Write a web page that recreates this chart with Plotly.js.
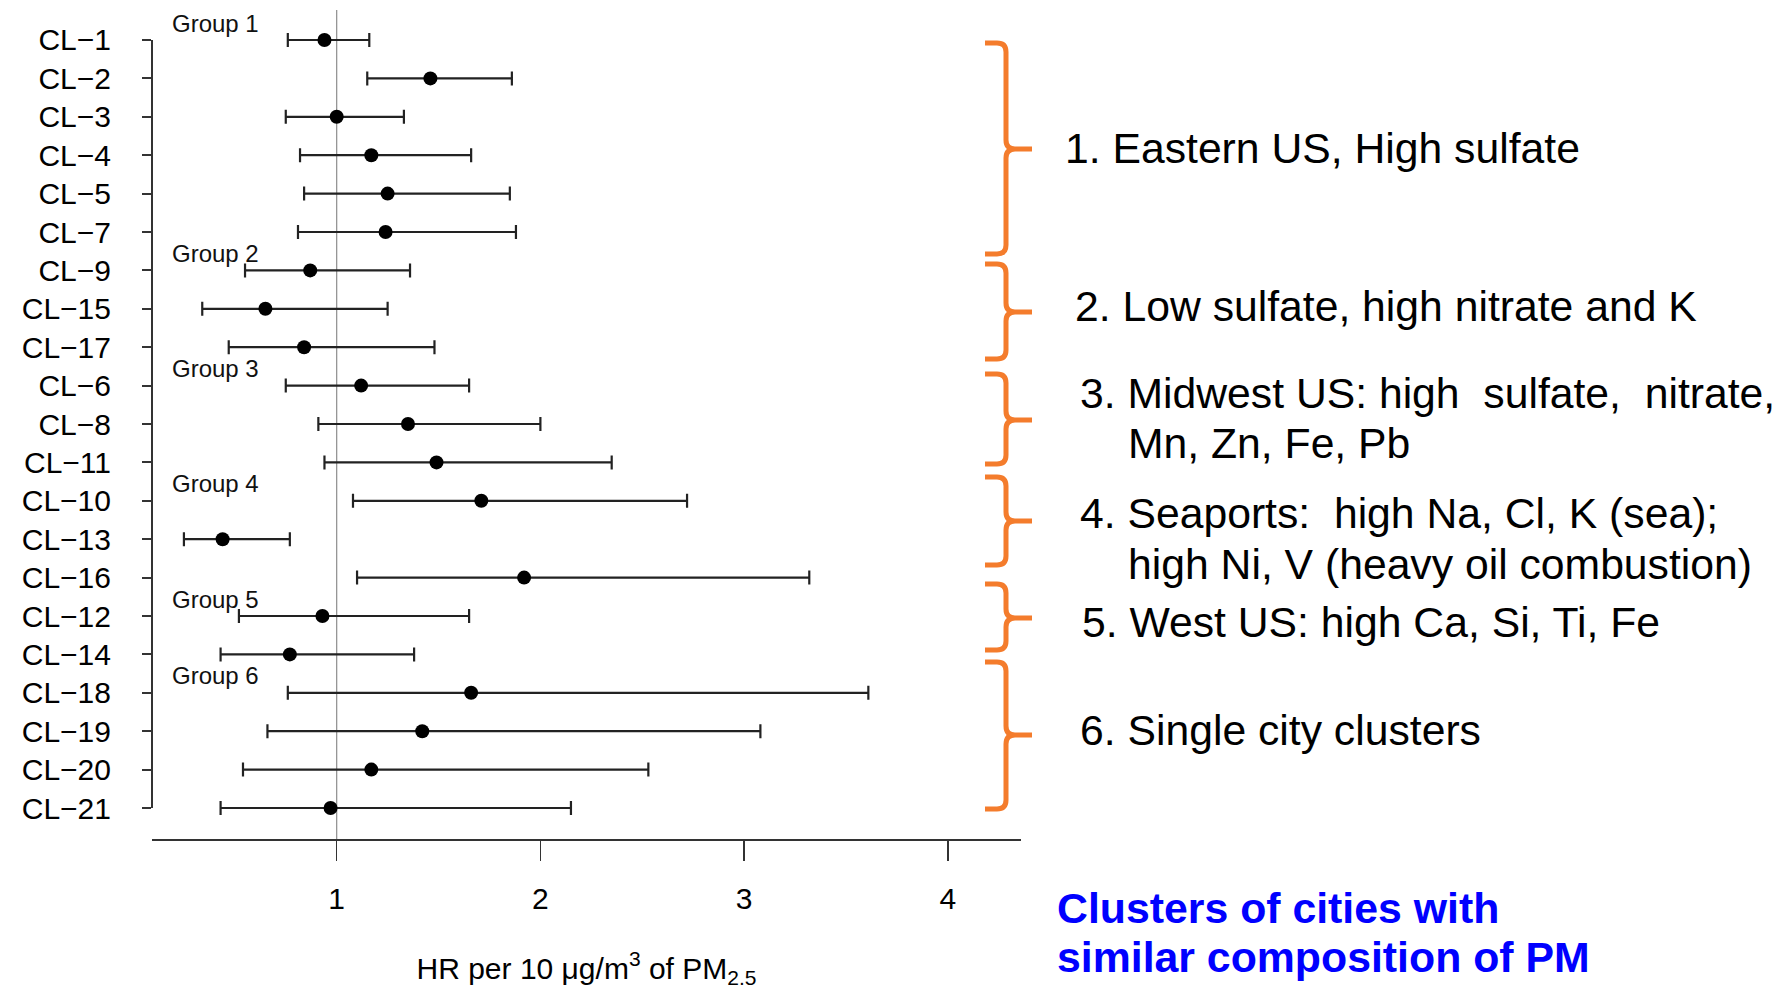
<!DOCTYPE html>
<html>
<head>
<meta charset="utf-8">
<script src="https://cdn.plot.ly/plotly-3.0.1.min.js"></script>
<style>html,body{margin:0;padding:0;background:#fff;}#chart{width:1792px;height:989px;}</style>
</head>
<body>
<div id="chart"></div>
<script>
// ---------- data ----------
const categories = ['CL\u22121','CL\u22122','CL\u22123','CL\u22124','CL\u22125','CL\u22127','CL\u22129','CL\u221215','CL\u221217','CL\u22126','CL\u22128','CL\u221211','CL\u221210','CL\u221213','CL\u221216','CL\u221212','CL\u221214','CL\u221218','CL\u221219','CL\u221220','CL\u221221'];
const hr    = [0.94,1.46,1.00,1.17,1.25,1.24,0.87,0.65,0.84,1.12,1.35,1.49,1.71,0.44,1.92,0.93,0.77,1.66,1.42,1.17,0.97];
const lower = [0.76,1.15,0.75,0.82,0.84,0.81,0.55,0.34,0.47,0.75,0.91,0.94,1.08,0.25,1.10,0.52,0.43,0.76,0.66,0.54,0.43];
const upper = [1.16,1.86,1.33,1.66,1.85,1.88,1.36,1.25,1.48,1.65,2.00,2.35,2.72,0.77,3.32,1.65,1.38,3.61,3.08,2.53,2.15];
const xTickVals = [1,2,3,4];
const xTickText = ['1','2','3','4'];
const groupLabels = ['Group 1','Group 2','Group 3','Group 4','Group 5','Group 6'];
const groupFirst  = ['CL\u22121','CL\u22129','CL\u22126','CL\u221210','CL\u221212','CL\u221218'];
const descLines = [
  '1. Eastern US, High sulfate',
  '2. Low sulfate, high nitrate and K',
  '3. Midwest US: high\u00a0 sulfate,\u00a0 nitrate,',
  'Mn, Zn, Fe, Pb',
  '4. Seaports:\u00a0 high Na, Cl, K (sea);',
  'high Ni, V (heavy oil combustion)',
  '5. West US: high Ca, Si, Ti, Fe',
  '6. Single city clusters'
];
const noteLines = ['Clusters of cities with','similar composition of PM'];
const xTitle = 'HR per 10 \u03bcg/m<sup>3</sup> of PM<sub>2.5</sub>';

// ---------- layout geometry (pixels) ----------
const W = 1792, H = 989;
const ML = 152, MR = 771, MT = 10, MB = 150;
const PW = W - ML - MR, PH = H - MT - MB;
const px = x => (x - ML) / PW;
const py = y => (MT + PH - y) / PH;

const FONT = 'Liberation Sans, Arial, Helvetica, sans-serif';
const ORANGE = '#f47c2c';

// error bar extents from the data
const errPlus  = upper.map((u, i) => u - hr[i]);
const errMinus = hr.map((h, i) => h - lower[i]);

const trace = {
  type: 'scatter',
  mode: 'markers',
  x: hr,
  y: categories,
  marker: {color: '#000', size: 14},
  error_x: {
    type: 'data', symmetric: false,
    array: errPlus, arrayminus: errMinus,
    color: '#222', thickness: 2.2, width: 7
  },
  hoverinfo: 'skip'
};

// ---------- shapes ----------
const shapes = [];
// reference line at HR = 1
shapes.push({type: 'line', xref: 'x', yref: 'paper', x0: 1, x1: 1, y0: 0, y1: 1,
  line: {color: '#8c8c8c', width: 1.2}, layer: 'below'});
// R-style y axis line spanning first to last category
shapes.push({type: 'line', xref: 'paper', yref: 'y', x0: 0, x1: 0,
  y0: 0, y1: categories.length - 1, line: {color: '#333', width: 2}});

// orange curly braces
const braces = [[43,149,254],[264,312,359],[374,420,464],[477,521,565],[584,618,650],[662,735,809]];
function bracePath(t, m, b) {
  const L = 985, V = 1006, R = 1032, r = 9;
  const P = (x, y) => px(x).toFixed(5) + ',' + py(y).toFixed(5);
  return 'M' + P(L, t) + ' L' + P(V - r, t) + ' Q' + P(V, t) + ' ' + P(V, t + r) +
         ' L' + P(V, m - r) + ' Q' + P(V, m) + ' ' + P(V + r, m) + ' L' + P(R, m) +
         ' M' + P(V + r, m) + ' Q' + P(V, m) + ' ' + P(V, m + r) +
         ' L' + P(V, b - r) + ' Q' + P(V, b) + ' ' + P(V - r, b) + ' L' + P(L, b);
}
braces.forEach(([t, m, b]) => shapes.push({
  type: 'path', xref: 'paper', yref: 'paper', path: bracePath(t, m, b),
  line: {color: ORANGE, width: 5}
}));

// ---------- annotations ----------
const annotations = [];
groupLabels.forEach((g, k) => {
  annotations.push({
    xref: 'paper', yref: 'y', x: px(170), y: categories.indexOf(groupFirst[k]) - 0.44,
    xanchor: 'left', yanchor: 'middle', showarrow: false, text: g,
    font: {family: FONT, size: 24, color: '#111'}
  });
});
const descPos = [[1063,148],[1073,306],[1078,393],[1126,443],[1078,513],[1126,564],[1080,622],[1078,730]];
descLines.forEach((t, k) => {
  annotations.push({
    xref: 'paper', yref: 'paper', x: px(descPos[k][0]), y: py(descPos[k][1]),
    xanchor: 'left', yanchor: 'middle', showarrow: false, text: t,
    font: {family: FONT, size: 42.7, color: '#000'}
  });
});
const notePos = [[1055,908],[1055,957]];
noteLines.forEach((t, k) => {
  annotations.push({
    xref: 'paper', yref: 'paper', x: px(notePos[k][0]), y: py(notePos[k][1]),
    xanchor: 'left', yanchor: 'middle', showarrow: false, text: '<b>' + t + '</b>',
    font: {family: FONT, size: 42.8, color: '#0000ff'}
  });
});

const layout = {
  width: W, height: H,
  margin: {l: ML, r: MR, t: MT, b: MB, pad: 0},
  paper_bgcolor: '#fff', plot_bgcolor: '#fff',
  showlegend: false,
  font: {family: FONT, color: '#000'},
  xaxis: {
    range: [0.0933, 4.3594], autorange: false,
    tickmode: 'array', tickvals: xTickVals, ticktext: xTickText,
    ticks: 'outside', ticklen: 20, tickwidth: 1.5, tickcolor: '#333',
    showline: true, linecolor: '#333', linewidth: 2,
    showgrid: false, zeroline: false,
    tickfont: {family: FONT, size: 30, color: '#000'},
    ticklabelstandoff: 12,
    title: {text: xTitle, font: {family: FONT, size: 30, color: '#000'}, standoff: 46},
    automargin: false, fixedrange: true
  },
  yaxis: {
    type: 'category', categoryorder: 'array', categoryarray: categories,
    range: [20.807, -0.781], autorange: false,
    ticks: 'outside', ticklen: 9, tickwidth: 2, tickcolor: '#333',
    showline: false, showgrid: false, zeroline: false,
    tickfont: {family: FONT, size: 30, color: '#000'},
    ticklabelstandoff: 25,
    automargin: false, fixedrange: true
  },
  shapes: shapes,
  annotations: annotations
};

Plotly.newPlot('chart', [trace], layout, {displayModeBar: false, staticPlot: true});
</script>
</body>
</html>
